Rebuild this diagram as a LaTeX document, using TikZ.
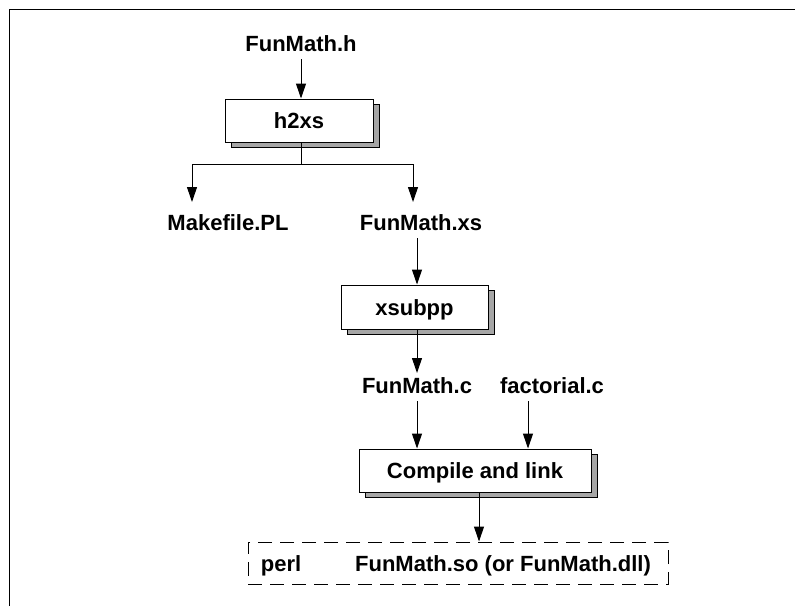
\documentclass[tikz,border=0pt]{standalone}
\usepackage{fontspec}
\setmainfont{Liberation Sans}
\usepackage{tikz}
\usetikzlibrary{arrows.meta,shadows}
\newcommand{\filefont}{\bfseries\fontsize{22}{26}\selectfont}
\tikzset{
	file/.style={font=\filefont, text height=16pt, text depth=0pt, inner sep=0pt, outer sep=8pt},
	tool/.style={draw, fill=white, font=\filefont, inner sep=0pt, text height=16pt, text depth=0pt,
		drop shadow={shadow xshift=6pt, shadow yshift=-5pt, opacity=1, fill=black!35, draw=black}},
	arr/.style={-{Triangle[length=15pt,width=10pt]}}
}

\begin{document}
\begin{tikzpicture}[x=1pt,y=-1pt,line width=1pt]
\useasboundingbox (0,0) rectangle (795,606);
%frame round the picture (top and left only)
\draw (9,606) -- (9,9) -- (795,9);

%files and tools
\node[file] (fh) at (301,43) {FunMath.h};
\node[tool, minimum width=148pt, minimum height=43pt] (h2xs) at (299,120.5) {h2xs};
\coordinate (split) at (301,164);
\node[file] (mk) at (228,222) {Makefile.PL};
\node[file] (xs) at (421,222) {FunMath.xs};
\node[tool, minimum width=147pt, minimum height=44pt] (xsubpp) at (414.5,307) {xsubpp};
\node[file] (fc) at (417,385) {FunMath.c};
\node[file] (fact) at (552,385) {factorial.c};
\node[tool, minimum width=232pt, minimum height=43pt] (cl) at (475,470.5) {Compile and link};
%the result, in a dashed frame
\node[draw, dash pattern=on 14pt off 8pt, minimum width=420pt, minimum height=42pt] (out) at (458,563) {};
\node[file] (perl) at (281,563) {perl};
\node[file] (so) at (503,563) {FunMath.so (or FunMath.dll)};

%connectors
\draw[arr] (fh.south) -- (fh.south |- h2xs.north);
\draw (h2xs.south -| split) -- (split);
\draw[arr, shorten >=4pt] (split) -| ([xshift=-36pt]mk.north);
\draw[arr, shorten >=4pt] (split) -| ([xshift=-8pt]xs.north);
\draw[arr] ([xshift=-4pt]xs.south) -- ([xshift=-4pt]xs.south |- xsubpp.north);
\draw[arr, shorten >=-4pt] (xsubpp.south -| fc) -- (fc.north);
\draw[arr] (fc.south) -- (fc.south |- cl.north);
\draw[arr] ([xshift=-24pt]fact.south) -- ([xshift=-24pt]fact.south |- cl.north);
\draw[arr] ([xshift=4pt]cl.south) -- ([xshift=4pt]cl.south |- out.north);

\end{tikzpicture}
\end{document}
